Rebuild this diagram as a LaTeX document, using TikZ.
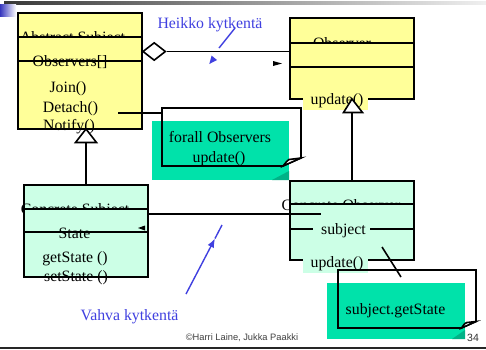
\documentclass[tikz,border=0pt]{standalone}
\usepackage{fontspec}
\setmainfont{Liberation Serif}
\newfontfamily\sansfnt{Liberation Sans}
\usetikzlibrary{shapes.geometric,arrows.meta}
\definecolor{umlyellow}{RGB}{255,255,153}
\definecolor{umlmint}{RGB}{204,255,230}
\definecolor{notegreen}{RGB}{0,226,170}
\definecolor{notefold}{RGB}{0,178,135}
\definecolor{slideblue}{RGB}{64,64,224}
\begin{document}
\begin{tikzpicture}[x=1pt,y=-1pt,
  txt/.style={font=\fontsize{15.8}{18}\selectfont, inner sep=0, anchor=base},
  classfill/.style={inner sep=0, outer sep=0, draw=none},
  border/.style={draw=black, line width=1.6pt},
  conn/.style={draw=black, line width=1.6pt},
  hint/.style={draw=slideblue, line width=1.4pt},
  notebox/.style={inner sep=0, outer sep=0},
  ]
\useasboundingbox (0,0) rectangle (486,349);
\fill[white] (0,0) rectangle (486,349);

% slide header
\shade[left color=black!78, right color=black!6] (4,1) rectangle (486,4.5);
\shade[left color=slideblue!85!black, right color=white] (0,4.5) rectangle (16,16);

% ---- Abstract Subject ----
\node[classfill, fill=umlyellow, minimum width=124pt, minimum height=116pt] (abs) at (80,71) {};
\node[txt] at (72.5,42) {Abstract Subject};
\fill[umlyellow] (abs.west |- 0,37) rectangle (abs.south east);
\node[txt] at (70,66) {Observers[]};
\node[txt] at (68,92.5) {Join()};
\node[txt] at (70.5,112) {Detach()};
\node[txt] at (69,130) {Notify()};
\draw[border] (abs.north west) rectangle (abs.south east);
\draw[border] (abs.west |- 0,37) -- (abs.east |- 0,37);
\draw[border] (abs.west |- 0,61) -- (abs.east |- 0,61);

% ---- Observer ----
\node[classfill, fill=umlyellow, minimum width=124pt, minimum height=81pt] (obs) at (352,58.5) {};
\node[txt] at (342,48.2) {Observer};
\fill[umlyellow] (obs.west |- 0,43) rectangle (obs.south east);
\draw[border] (obs.north west) rectangle (obs.south east);
\draw[border] (obs.west |- 0,43) -- (obs.east |- 0,43);
\draw[border] (obs.west |- 0,67) -- (obs.east |- 0,67);
\fill[umlyellow] (303,91) rectangle (368,110);
\node[txt] at (337,104) {update()};

% ---- Concrete Subject ----
\node[classfill, fill=umlmint, minimum width=124pt, minimum height=92pt] (csub) at (86,231) {};
\node[txt] at (75,214.5) {Concrete Subject};
\fill[umlmint] (csub.west |- 0,209) rectangle (csub.south east);
\node[txt] at (74.5,238) {State};
\node[txt] at (75,262.5) {getState ()};
\node[txt] at (76,281) {setState ()};
\draw[border] (csub.north west) rectangle (csub.south east);
\draw[border] (csub.west |- 0,209) -- (csub.east |- 0,209);
\draw[border] (csub.west |- 0,232) -- (csub.east |- 0,232);

% ---- Concrete Observer ----
\node[classfill, fill=umlmint, minimum width=124pt, minimum height=79pt] (cobs) at (352,220.5) {};
\node[txt] at (341,210.5) {Concrete Observer};
\fill[umlmint] (cobs.west |- 0,204) rectangle (cobs.south east);
\draw[border] (cobs.north west) rectangle (cobs.south east);
\draw[border] (cobs.west |- 0,204) -- (cobs.east |- 0,204);
\draw[border] (cobs.west |- 0,229) -- (cobs.east |- 0,229);
\fill[umlmint] (313,221) rectangle (370,240);
\node[txt] at (343.5,234) {subject};
\fill[umlmint] (303,254) rectangle (368,273);
\node[txt] at (337,267) {update()};

% ---- aggregation Abstract Subject -> Observer ----
\node[diamond, draw, line width=1.6pt, fill=white, minimum width=23pt, minimum height=18pt, inner sep=0] (agg) at (154.2,51.5) {};
\draw[conn] (agg.east) -- (obs.west |- agg.east);

% ---- association Concrete Subject -> Concrete Observer ----
\coordinate (assocEnd) at (321,214);
\draw[conn] (csub.east |- assocEnd) -- (assocEnd);

% ---- generalisations ----
\filldraw[border, fill=white] (86,129) -- (96.5,142.5) -- (75.5,142.5) -- cycle;
\coordinate (absTri) at (86,142.5);
\draw[conn] (absTri) -- (csub.north);
\filldraw[border, fill=white] (352,99) -- (362.5,112.5) -- (343.5,112.5) -- cycle;
\coordinate (obsTri) at (352,112.5);
\draw[conn] (obsTri) -- (cobs.north);

% stray arrowheads
\fill (273,61) -- (282,63.5) -- (273,66) -- cycle;
\fill (138,228) -- (145,225.5) -- (145,230.5) -- cycle;

% ---- note: forall Observers ----
\fill[notegreen] (152,121) rectangle (289,180);
\fill[notefold] (272,180) -- (289,171) -- (289,180) -- cycle;
\node[notebox, minimum width=139pt, minimum height=58pt] (note1) at (231.5,137) {};
\draw[border] (note1.north west) -- (note1.north east) -- (301,158) -- (283,166) -- (note1.south west) -- cycle;
\filldraw[border, fill=white] (283,166) .. controls (287,161) .. (289,159.5) -- (301,158) -- cycle;
\node[txt] at (220,142) {forall Observers};
\node[txt] at (219,162) {update()};
\coordinate (detachPt) at (118,113);
\draw[conn] (detachPt) -- (note1.west |- detachPt);

% ---- note: subject.getState ----
\fill[notegreen] (327,283) rectangle (465,339);
\fill[notefold] (452,339) -- (465,330) -- (465,339) -- cycle;
\node[notebox, minimum width=138pt, minimum height=58pt] (note2) at (407,299) {};
\draw[border] (note2.north west) -- (note2.north east) -- (476,321.5) -- (461.5,328) -- (note2.south west) -- cycle;
\filldraw[border, fill=white] (461.5,328) .. controls (465,323) .. (467,322.5) -- (476,321.5) -- cycle;
\node[txt] at (395.5,314) {subject.getState};
\coordinate (updFrom) at (382,247);
\coordinate (updTo) at (401,277);
\draw[conn] (updFrom) -- (updTo);

% ---- coupling hints ----
\node[txt, text=slideblue] at (210,28) {Heikko kytkentä};
\draw[hint] (235,28) -- (219,48);
\fill[slideblue] (209.3,64) -- (211.6,55.6) -- (217,60) -- cycle;
\node[txt, text=slideblue] at (129.5,320) {Vahva kytkentä};
\draw[hint, -{Latex[length=9pt,width=7pt]}] (186,294) -- (215,238.5);
\draw[hint] (215,238.5) -- (222,225);

% footer
\node[font=\sansfnt\fontsize{9.3}{10}\selectfont, text=black!75, inner sep=0, anchor=base] at (242,340) {©Harri Laine, Jukka Paakki};
\node[font=\sansfnt\fontsize{10.5}{12}\selectfont, text=black!80, inner sep=0, anchor=base] at (473,341) {34};
\draw[line width=2.2pt, black!85] (0,347.6) -- (486,347.6);
\end{tikzpicture}
\end{document}
